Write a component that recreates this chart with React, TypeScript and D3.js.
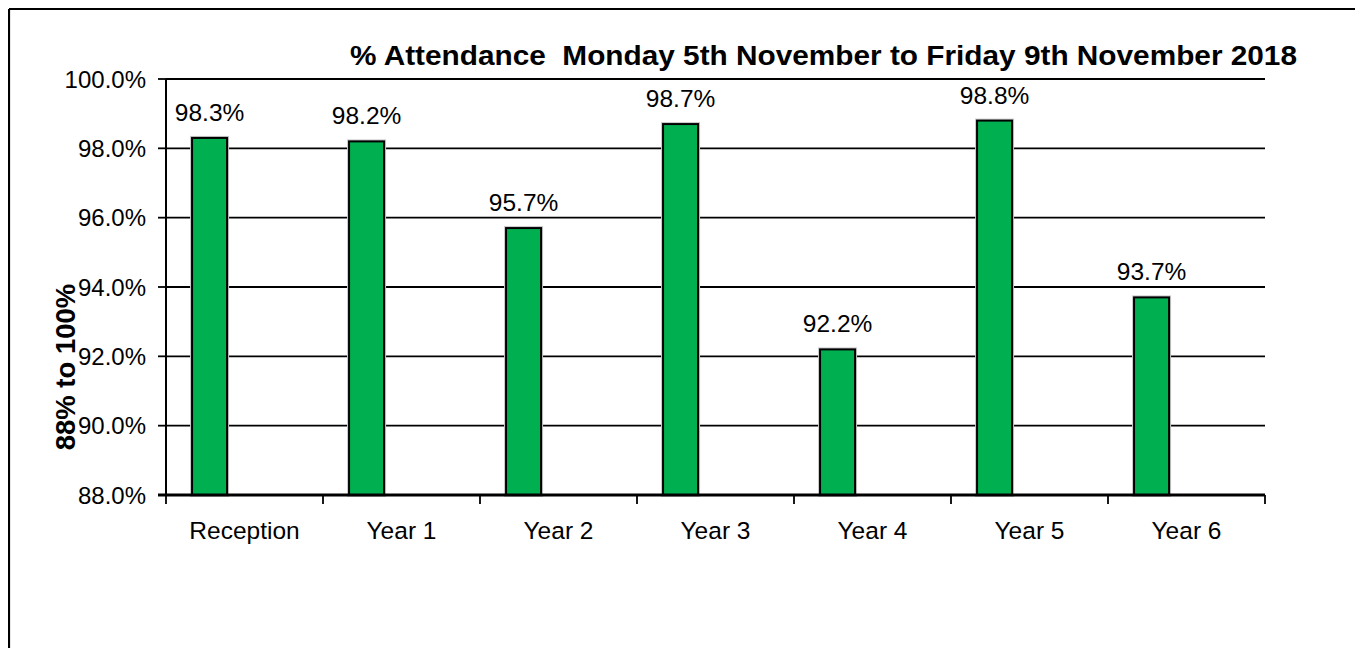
import React from "react";
import * as d3 from "d3";

const categories = ["Reception", "Year 1", "Year 2", "Year 3", "Year 4", "Year 5", "Year 6"];
const attendance = [98.3, 98.2, 95.7, 98.7, 92.2, 98.8, 93.7];
const yTicks = [88, 90, 92, 94, 96, 98, 100];
const title = "% Attendance  Monday 5th November to Friday 9th November 2018";
const yTitle = "88% to 100%";

const FONT = "'Liberation Sans', Arial, Helvetica, sans-serif";

export default function App() {
  const left = 166, right = 1265, top = 79, bottom = 495;
  const x = d3.scaleBand<string>().domain(categories).range([left, right]).paddingInner(0).paddingOuter(0);
  const y = d3.scaleLinear().domain([88, 100]).range([bottom, top]);
  const bw = x.bandwidth();
  const barOff = bw * 0.166;
  const barW = bw * 0.223;
  const boundaries = categories.map((c) => x(c) as number).concat([right]);

  return (
    <svg width={1355} height={640} style={{ display: "block" }}>
      <g transform="translate(-8,-8)" fontFamily={FONT}>
        <rect x={0} y={0} width={1400} height={700} fill="#fff" />
        {/* outer border */}
        <line x1={9} y1={9} x2={1400} y2={9} stroke="#000" strokeWidth={2.2} />
        <line x1={9} y1={9} x2={9} y2={700} stroke="#000" strokeWidth={2.2} />

        {/* title */}
        <text x={350} y={65} fontSize={28} fontWeight="bold" textLength={947} lengthAdjust="spacingAndGlyphs" style={{ whiteSpace: "pre" }}>
          {title}
        </text>

        {/* gridlines */}
        {yTicks.filter((t) => t > 88).map((t) => (
          <line key={t} x1={left} x2={right} y1={y(t)} y2={y(t)} stroke="#000" strokeWidth={1.8} />
        ))}

        {/* y ticks and labels */}
        {yTicks.map((t) => (
          <g key={"yt" + t}>
            <line x1={left - 8} x2={left} y1={y(t)} y2={y(t)} stroke="#000" strokeWidth={1.8} />
            <text x={146} y={y(t)} dy="0.36em" fontSize={24} textAnchor="end" fill="#000">
              {d3.format(".1f")(t) + "%"}
            </text>
          </g>
        ))}

        {/* y title */}
        <text transform={`translate(75,367) rotate(-90)`} fontSize={27.5} fontWeight="bold" textAnchor="middle">
          {yTitle}
        </text>

        {/* bars */}
        {categories.map((c, i) => {
          const bx = (x(c) as number) + barOff;
          const by = y(attendance[i]);
          return (
            <g key={c}>
              <rect x={bx} y={by} width={barW} height={bottom - by} fill="#00B050" stroke="#c8c8c8" strokeWidth={4} />
              <rect x={bx} y={by} width={barW} height={bottom - by} fill="#00B050" stroke="#000" strokeWidth={2} />
              <text x={bx + barW / 2} y={by - 17} fontSize={24.5} textAnchor="middle" fill="#000">
                {attendance[i].toFixed(1) + "%"}
              </text>
            </g>
          );
        })}

        {/* axes */}
        <line x1={left} x2={left} y1={top} y2={bottom} stroke="#000" strokeWidth={2} />
        <line x1={left - 8} x2={right} y1={bottom} y2={bottom} stroke="#000" strokeWidth={3} />
        {boundaries.map((bx, i) => (
          <line key={"xt" + i} x1={bx} x2={bx} y1={bottom} y2={bottom + 9} stroke="#000" strokeWidth={1.8} />
        ))}
        {categories.map((c) => (
          <text key={"xl" + c} x={(x(c) as number) + bw / 2} y={539} fontSize={24.5} textAnchor="middle" fill="#000">
            {c}
          </text>
        ))}
      </g>
    </svg>
  );
}
